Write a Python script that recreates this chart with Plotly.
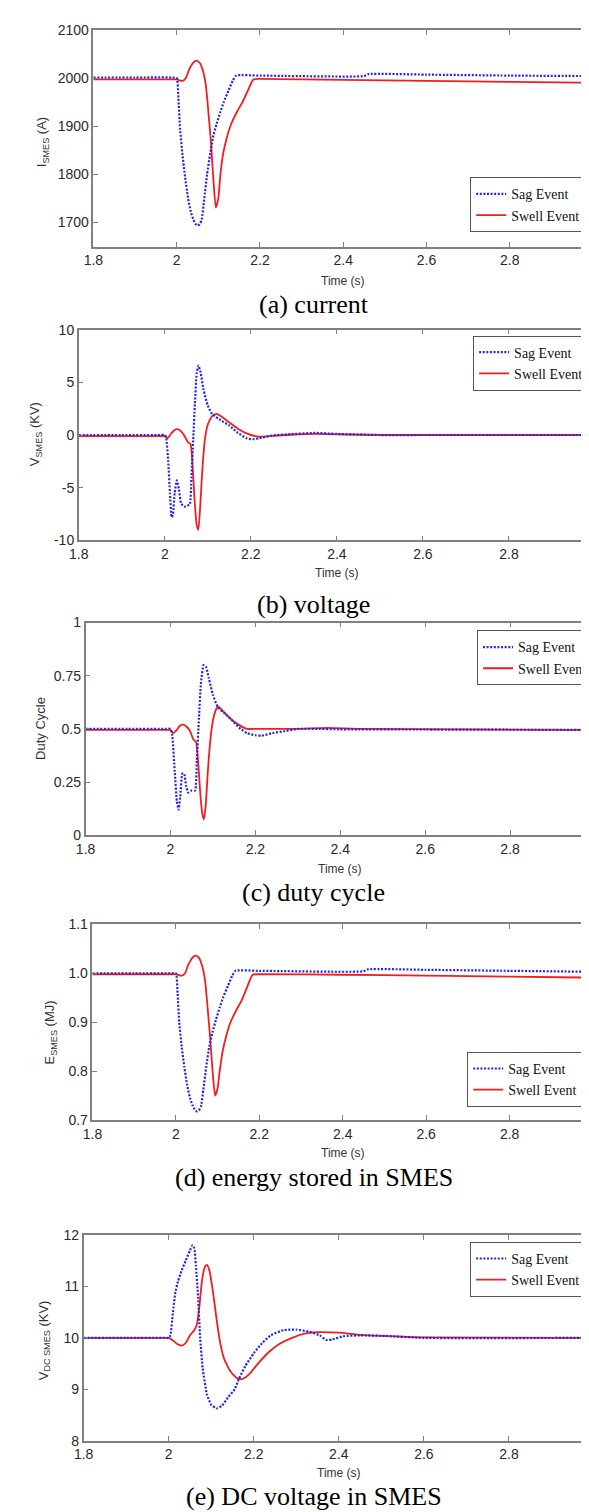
import plotly.graph_objects as go

# ---------------- DATA ----------------
# (a) current I_SMES (A)
t_a_sag = [1.8, 1.9, 1.99, 2.0, 2.004, 2.008, 2.014, 2.02, 2.027, 2.034, 2.04, 2.045, 2.05, 2.055, 2.06,
           2.066, 2.073, 2.08, 2.088, 2.096, 2.105, 2.113, 2.125, 2.135, 2.143, 2.2, 2.45, 2.46, 2.6,
           2.8, 3.0]
i_sag = [2001, 2001, 2001, 2000, 1960, 1895, 1840, 1795, 1752, 1722, 1706, 1697, 1694, 1696, 1706,
         1748, 1800, 1840, 1880, 1905, 1930, 1950, 1975, 1995, 2005, 2005, 2004, 2008, 2007,
         2005, 2004]
t_a_swell = [1.8, 1.9, 1.99, 2.0, 2.014, 2.022, 2.03, 2.04, 2.047, 2.055, 2.063, 2.07, 2.076, 2.082,
             2.088, 2.094, 2.1, 2.105, 2.112, 2.12, 2.131, 2.145, 2.158, 2.17, 2.184, 2.2, 2.4, 2.6,
             2.8, 3.0]
i_swell = [1997, 1997, 1997, 1997, 1994, 2000, 2018, 2032, 2036, 2032, 2015, 1985, 1930, 1870,
           1790, 1731, 1750, 1800, 1845, 1875, 1905, 1930, 1950, 1972, 1997, 1998, 1996, 1994,
           1992, 1990]

# (b) voltage V_SMES (kV)
t_b_sag = [1.8, 1.9, 1.99, 2.0, 2.003, 2.008, 2.012, 2.016, 2.019, 2.023, 2.028, 2.033, 2.038, 2.045,
           2.052, 2.058, 2.062, 2.066, 2.07, 2.074, 2.078, 2.083, 2.09, 2.1, 2.11, 2.13, 2.15, 2.17,
           2.19, 2.205, 2.22, 2.25, 2.3, 2.35, 2.4, 2.5, 2.6, 3.0]
v_sag = [0, 0, 0, 0, -0.2, -2.5, -5.5, -7.8, -7.5, -5.5, -4.3, -5.2, -6.5, -6.8,
         -6.7, -6.6, -4.0, -0.5, 3.0, 5.8, 6.6, 6.0, 4.3, 2.8, 2.0, 1.4, 0.9, 0.2,
         -0.3, -0.4, -0.3, -0.05, 0.1, 0.2, 0.1, 0.0, 0.0, 0.0]
t_b_swell = [1.8, 1.9, 1.99, 2.0, 2.006, 2.014, 2.022, 2.03, 2.038, 2.046, 2.054, 2.06, 2.064, 2.069,
             2.074, 2.078, 2.082, 2.087, 2.093, 2.1, 2.11, 2.12, 2.13, 2.15, 2.17, 2.19, 2.21, 2.23,
             2.26, 2.3, 2.35, 2.5, 3.0]
v_swell = [-0.1, -0.1, -0.1, -0.1, -0.3, 0.1, 0.45, 0.55, 0.35, -0.1, -0.7, -0.85, -2.5, -6.0,
           -8.5, -9.0, -7.0, -3.5, -0.5, 1.0, 1.8, 2.0, 1.8, 1.2, 0.6, 0.15, -0.1, -0.15,
           -0.05, 0.05, 0.1, 0.0, 0.0]

# (c) duty cycle
t_c_sag = [1.8, 1.9, 1.99, 2.0, 2.004, 2.01, 2.015, 2.019, 2.023, 2.028, 2.032, 2.037, 2.042, 2.05,
           2.058, 2.062, 2.067, 2.072, 2.078, 2.084, 2.09, 2.1, 2.112, 2.13, 2.15, 2.165, 2.18, 2.2,
           2.215, 2.24, 2.27, 2.3, 2.35, 2.4, 2.6, 3.0]
d_sag = [0.5, 0.5, 0.5, 0.5, 0.47, 0.3, 0.16, 0.12, 0.18, 0.29, 0.29, 0.23, 0.2, 0.21,
         0.21, 0.35, 0.55, 0.72, 0.8, 0.79, 0.74, 0.66, 0.6, 0.57, 0.53, 0.5, 0.48, 0.47,
         0.468, 0.48, 0.49, 0.5, 0.5, 0.498, 0.497, 0.495]
t_c_swell = [1.8, 1.9, 1.99, 2.0, 2.006, 2.015, 2.022, 2.03, 2.038, 2.046, 2.054, 2.06, 2.065, 2.07,
             2.075, 2.079, 2.083, 2.088, 2.094, 2.1, 2.107, 2.113, 2.125, 2.14, 2.16, 2.18, 2.2, 2.3,
             2.37, 2.45, 3.0]
d_swell = [0.495, 0.495, 0.495, 0.495, 0.48, 0.495, 0.515, 0.52, 0.51, 0.49, 0.45, 0.44, 0.35, 0.2,
           0.1, 0.075, 0.14, 0.3, 0.45, 0.54, 0.59, 0.605, 0.58, 0.55, 0.52, 0.5, 0.5, 0.5,
           0.505, 0.5, 0.495]

# (d) energy stored E_SMES (MJ)
t_d_sag = [1.8, 1.9, 1.99, 2.0, 2.004, 2.008, 2.014, 2.02, 2.027, 2.034, 2.04, 2.045, 2.05, 2.055, 2.06,
           2.066, 2.073, 2.08, 2.088, 2.096, 2.105, 2.113, 2.125, 2.135, 2.143, 2.2, 2.45, 2.46, 2.6,
           2.8, 3.0]
e_sag = [1.0, 1.0, 1.0, 1.0, 0.96, 0.9, 0.85, 0.81, 0.772, 0.745, 0.73, 0.722, 0.718, 0.72, 0.728,
         0.763, 0.81, 0.85, 0.88, 0.905, 0.93, 0.95, 0.975, 0.995, 1.005, 1.005, 1.004, 1.008, 1.007,
         1.005, 1.003]
t_d_swell = [1.8, 1.9, 1.99, 2.0, 2.014, 2.022, 2.03, 2.04, 2.047, 2.055, 2.063, 2.07, 2.076, 2.082,
             2.088, 2.094, 2.1, 2.105, 2.112, 2.12, 2.131, 2.145, 2.158, 2.17, 2.184, 2.2, 2.4, 2.6,
             2.8, 3.0]
e_swell = [0.998, 0.998, 0.998, 0.998, 0.995, 1.0, 1.018, 1.032, 1.036, 1.032, 1.015, 0.985, 0.93, 0.87,
           0.8, 0.75, 0.765, 0.8, 0.84, 0.87, 0.9, 0.925, 0.945, 0.97, 0.997, 0.998, 0.997, 0.995,
           0.993, 0.991]

# (e) DC voltage V_DC SMES (kV)
t_e_sag = [1.8, 1.9, 1.99, 2.0, 2.004, 2.01, 2.016, 2.022, 2.03, 2.04, 2.05, 2.056, 2.06, 2.064, 2.069,
           2.074, 2.08, 2.09, 2.1, 2.113, 2.125, 2.14, 2.155, 2.165, 2.18, 2.2, 2.22, 2.24, 2.27, 2.3,
           2.33, 2.355, 2.37, 2.385, 2.41, 2.45, 2.5, 2.6, 3.0]
vdc_sag = [10, 10, 10, 10, 10.05, 10.5, 10.9, 11.1, 11.3, 11.5, 11.7, 11.8, 11.75, 11.4, 10.8,
           10.0, 9.4, 8.9, 8.7, 8.63, 8.68, 8.85, 9.0, 9.2, 9.45, 9.7, 9.9, 10.05, 10.15, 10.16,
           10.12, 10.05, 9.96, 9.97, 10.03, 10.05, 10.04, 10.0, 10.0]
t_e_swell = [1.8, 1.9, 1.99, 2.0, 2.01, 2.02, 2.03, 2.04, 2.05, 2.06, 2.066, 2.072, 2.078, 2.085, 2.09,
             2.096, 2.104, 2.112, 2.12, 2.13, 2.145, 2.16, 2.173, 2.19, 2.21, 2.235, 2.26, 2.29, 2.32,
             2.35, 2.4, 2.45, 2.5, 2.6, 3.0]
vdc_swell = [10, 10, 10, 10, 9.95, 9.88, 9.85, 9.9, 10.05, 10.15, 10.25, 10.6, 11.1, 11.38, 11.42,
             11.3, 10.9, 10.4, 9.95, 9.6, 9.35, 9.22, 9.2, 9.3, 9.5, 9.72, 9.88, 10.0, 10.08,
             10.11, 10.1, 10.06, 10.04, 10.01, 10.0]

series_names = ["Sag Event", "Swell Event"]
x_tickvals = [1.8, 2.0, 2.2, 2.4, 2.6, 2.8, 3.0]
x_ticktext = ["1.8", "2", "2.2", "2.4", "2.6", "2.8", "3"]
ticks_a = [1700, 1800, 1900, 2000, 2100]
ticks_b = [-10, -5, 0, 5, 10]
ticks_c = [0, 0.25, 0.5, 0.75, 1]
ticks_d = [0.7, 0.8, 0.9, 1.0, 1.1]
ticks_e = [8, 9, 10, 11, 12]
labels_d = ["0.7", "0.8", "0.9", "1.0", "1.1"]

# ---------------- LAYOUT ----------------
W, H = 589, 1512


def fx(px):
    return px / W


def fy(py):
    return 1 - py / H


panels = [
    dict(sag=(t_a_sag, i_sag), swell=(t_a_swell, i_swell), box=(77, 587, 14, 233), yr=[1650, 2100],
         yt=ticks_a, ytt=[str(v) for v in ticks_a], xn=7,
         ytitle="I<sub>SMES</sub> (A)", ytx=25, yty=127, xty=268, cap="(a) current", capy=292,
         leg=(580, 163)),
    dict(sag=(t_b_sag, v_sag), swell=(t_b_swell, v_swell), box=(62, 589, 317, 530), yr=[-10, 10],
         yt=ticks_b, ytt=[str(v) for v in ticks_b], xn=6,
         ytitle="V<sub>SMES</sub> (KV)", ytx=18, yty=423, xty=563, cap="(b) voltage", capy=595,
         leg=(583, 323)),
    dict(sag=(t_c_sag, d_sag), swell=(t_c_swell, d_swell), box=(69, 589, 613, 828), yr=[0, 1],
         yt=ticks_c, ytt=["0", "0.25", "0.5", "0.75", "1"], xn=6,
         ytitle="Duty Cycle", ytx=23, yty=720, xty=862, cap="(c) duty cycle", capy=886,
         leg=(587, 621)),
    dict(sag=(t_d_sag, e_sag), swell=(t_d_swell, e_swell), box=(76, 587, 918, 1116), yr=[0.7, 1.1],
         yt=ticks_d, ytt=labels_d, xn=7,
         ytitle="E<sub>SMES</sub> (MJ)", ytx=33, yty=1027, xty=1149, cap="(d) energy stored in SMES",
         capy=1174, leg=(577, 1047)),
    dict(sag=(t_e_sag, vdc_sag), swell=(t_e_swell, vdc_swell), box=(67, 588, 1232, 1440), yr=[8, 12],
         yt=ticks_e, ytt=[str(v) for v in ticks_e], xn=7,
         ytitle="V<sub>DC SMES</sub> (KV)", ytx=27, yty=1338, xty=1473, cap="(e) DC voltage in SMES",
         capy=1496, leg=(580, 1239)),
]

AX = "#808080"
BLUE = "#2424e8"
RED = "#f01e1e"
tickfont = dict(family="Liberation Sans", size=14, color="#2a2a2a")

fig = go.Figure()
layout = dict(width=W, height=H, margin=dict(l=0, r=0, t=0, b=0),
              paper_bgcolor="white", plot_bgcolor="white", showlegend=True, annotations=[])

for k, p in enumerate(panels, start=1):
    sfx = "" if k == 1 else str(k)
    lg = "legend" if k == 1 else f"legend{k}"
    xa, ya = f"x{sfx}", f"y{sfx}"
    l, r, t, b = p["box"]
    fig.add_trace(go.Scatter(x=p["swell"][0], y=p["swell"][1], mode="lines", name=series_names[1],
                             xaxis=xa, yaxis=ya, legend=lg, legendrank=2,
                             line=dict(color=RED, width=1.8, shape="spline", smoothing=0.5)))
    fig.add_trace(go.Scatter(x=p["sag"][0], y=p["sag"][1], mode="lines", name=series_names[0],
                             xaxis=xa, yaxis=ya, legend=lg, legendrank=1,
                             line=dict(color=BLUE, width=2.2, dash="2px,1.6px", shape="spline",
                                       smoothing=0.5)))
    common = dict(showgrid=False, zeroline=False, showline=True, linecolor=AX, linewidth=1.5,
                  mirror="ticks", ticks="inside", ticklen=5, tickcolor=AX, tickwidth=1,
                  tickfont=tickfont)
    layout[f"xaxis{sfx}"] = dict(domain=[fx(l), fx(r)], anchor=ya, range=[1.8, 3.0],
                                 tickvals=x_tickvals[:p["xn"]], ticktext=x_ticktext[:p["xn"]], **common)
    layout[f"yaxis{sfx}"] = dict(domain=[fy(b), fy(t)], anchor=xa, range=p["yr"],
                                 tickvals=p["yt"], ticktext=p["ytt"], **common)
    layout[lg] = dict(x=fx(p["leg"][0]), y=fy(p["leg"][1]), xanchor="right", yanchor="top",
                      bgcolor="white", bordercolor="#555555", borderwidth=1,
                      font=dict(family="Liberation Serif", size=14, color="#111111"),
                      tracegroupgap=0)
    layout["annotations"] += [
        dict(text=p["ytitle"], x=fx(p["ytx"]), y=fy(p["yty"]), xref="paper", yref="paper",
             textangle=-90, showarrow=False, xanchor="center", yanchor="middle",
             font=dict(family="Liberation Sans", size=13, color="#333333")),
        dict(text="Time (s)", x=fx((l + r) / 2), y=fy(p["xty"]), xref="paper", yref="paper",
             showarrow=False, xanchor="center", yanchor="middle",
             font=dict(family="Liberation Sans", size=12, color="#333333")),
        dict(text=p["cap"], x=fx(302), y=fy(p["capy"]), xref="paper", yref="paper",
             showarrow=False, xanchor="center", yanchor="middle",
             font=dict(family="Liberation Serif", size=26, color="#000000")),
    ]

fig.update_layout(**layout)
fig.write_html("out.html")
